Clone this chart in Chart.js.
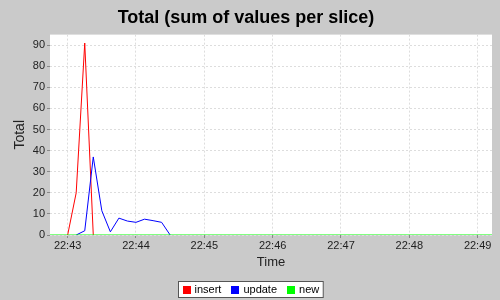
<!DOCTYPE html>
<html>
<head>
<meta charset="utf-8">
<script src="https://cdn.jsdelivr.net/npm/chart.js@4/dist/chart.umd.min.js"></script>
<style>
  body { margin: 0; background: #cccccc; }
</style>
</head>
<body>
<canvas id="chart" width="500" height="300"></canvas>
<script>
// time is in seconds after 22:43:00
const xMin = -15.5;
const xMax = 372.6;
const tickSeconds = [0, 60, 120, 180, 240, 300, 360];
const tickLabels = ['22:43', '22:44', '22:45', '22:46', '22:47', '22:48', '22:49'];
const yTicks = [0, 10, 20, 30, 40, 50, 60, 70, 80, 90];

const insertTimes = [0, 7.5, 15, 22.5];
const insertValues = [0, 20, 91, 0];

const updateTimes = [7.5, 15, 22.5, 30, 37.5, 45, 52.5, 60, 67.5, 75, 82.5, 90];
const updateValues = [0, 2, 37, 11.5, 1.5, 8, 6.6, 6, 7.5, 6.8, 6, 0];

const newTimes = [xMin, xMax];
const newValues = [0, 0];

function pts(ts, vs) {
  return ts.map(function (t, i) { return { x: t, y: vs[i] }; });
}

const FONT = 'Liberation Sans, Arial, sans-serif';

const frame = {
  id: 'frame',
  beforeDraw(chart) {
    const ctx = chart.ctx, a = chart.chartArea;
    ctx.save();
    ctx.fillStyle = '#cacaca';
    ctx.fillRect(0, 0, chart.width, chart.height);
    ctx.fillStyle = '#ffffff';
    ctx.fillRect(a.left, a.top, a.right - a.left, a.bottom - a.top);
    ctx.restore();
  },
  afterDraw(chart) {
    // legend box at the bottom
    const ctx = chart.ctx;
    ctx.save();
    ctx.font = '11px ' + FONT;
    const items = chart.data.datasets.map(function (d) {
      return { text: d.label, color: d.borderColor, w: ctx.measureText(d.label).width };
    });
    let total = 0;
    items.forEach(function (it, i) { total += 8 + 4 + it.w + (i < items.length - 1 ? 10 : 0); });
    const pad = 4;
    const boxW = total + pad * 2;
    const left = Math.round(250 - boxW / 2) + 0.5;
    const top = 281.5;
    ctx.fillStyle = '#ffffff';
    ctx.fillRect(left, top, boxW, 16);
    ctx.strokeStyle = '#555555';
    ctx.lineWidth = 1;
    ctx.strokeRect(left, top, boxW, 16);
    let x = left + pad;
    ctx.textBaseline = 'middle';
    items.forEach(function (it) {
      ctx.fillStyle = it.color;
      ctx.fillRect(Math.round(x), 286, 8, 8);
      x += 12;
      ctx.fillStyle = '#000000';
      ctx.fillText(it.text, x, 290);
      x += it.w + 10;
    });
    ctx.restore();
  }
};

new Chart(document.getElementById('chart').getContext('2d'), {
  type: 'line',
  data: {
    datasets: [{
      label: 'insert',
      data: pts(insertTimes, insertValues),
      borderColor: '#ff0000',
      borderWidth: 1,
      pointRadius: 0,
      tension: 0,
      order: 2
    }, {
      label: 'update',
      data: pts(updateTimes, updateValues),
      borderColor: '#0000ff',
      borderWidth: 1,
      pointRadius: 0,
      tension: 0,
      order: 1
    }, {
      label: 'new',
      data: pts(newTimes, newValues),
      borderColor: '#00ff00',
      borderWidth: 1,
      pointRadius: 0,
      tension: 0,
      order: 0
    }]
  },
  options: {
    responsive: false,
    animation: false,
    devicePixelRatio: 1,
    layout: { padding: { left: 0, right: 8, top: 0, bottom: 30 } },
    plugins: {
      legend: { display: false },
      tooltip: { enabled: false },
      title: {
        display: true,
        text: 'Total (sum of values per slice)',
        color: '#000000',
        font: { family: FONT, size: 18, weight: 'bold' },
        padding: { top: 7, bottom: 6 }
      }
    },
    scales: {
      x: {
        type: 'linear',
        min: xMin,
        max: xMax,
        afterBuildTicks: function (s) { s.ticks = tickSeconds.map(function (v) { return { value: v }; }); },
        afterFit: function (s) { s.height = 35; },
        ticks: {
          autoSkip: false,
          maxRotation: 0,
          padding: 1,
          color: '#222222',
          font: { family: FONT, size: 11 },
          callback: function (v) { return tickLabels[tickSeconds.indexOf(v)]; }
        },
        grid: { color: '#dddddd', tickColor: '#888888', tickLength: 3, tickBorderDash: [] },
        border: { display: false, dash: [2, 2] },
        title: { display: true, text: 'Time', color: '#222222', font: { family: FONT, size: 13 }, padding: 0 }
      },
      y: {
        min: 0,
        max: 95,
        afterBuildTicks: function (s) { s.ticks = yTicks.map(function (v) { return { value: v }; }); },
        afterFit: function (s) { s.width = 50; },
        ticks: {
          padding: 2,
          color: '#222222',
          font: { family: FONT, size: 11 }
        },
        grid: { color: '#dddddd', tickColor: '#888888', tickLength: 3, tickBorderDash: [] },
        border: { display: false, dash: [2, 2] },
        title: { display: true, text: 'Total', color: '#222222', font: { family: FONT, size: 14 }, padding: { top: 12 } }
      }
    }
  },
  plugins: [frame]
});
</script>
</body>
</html>
